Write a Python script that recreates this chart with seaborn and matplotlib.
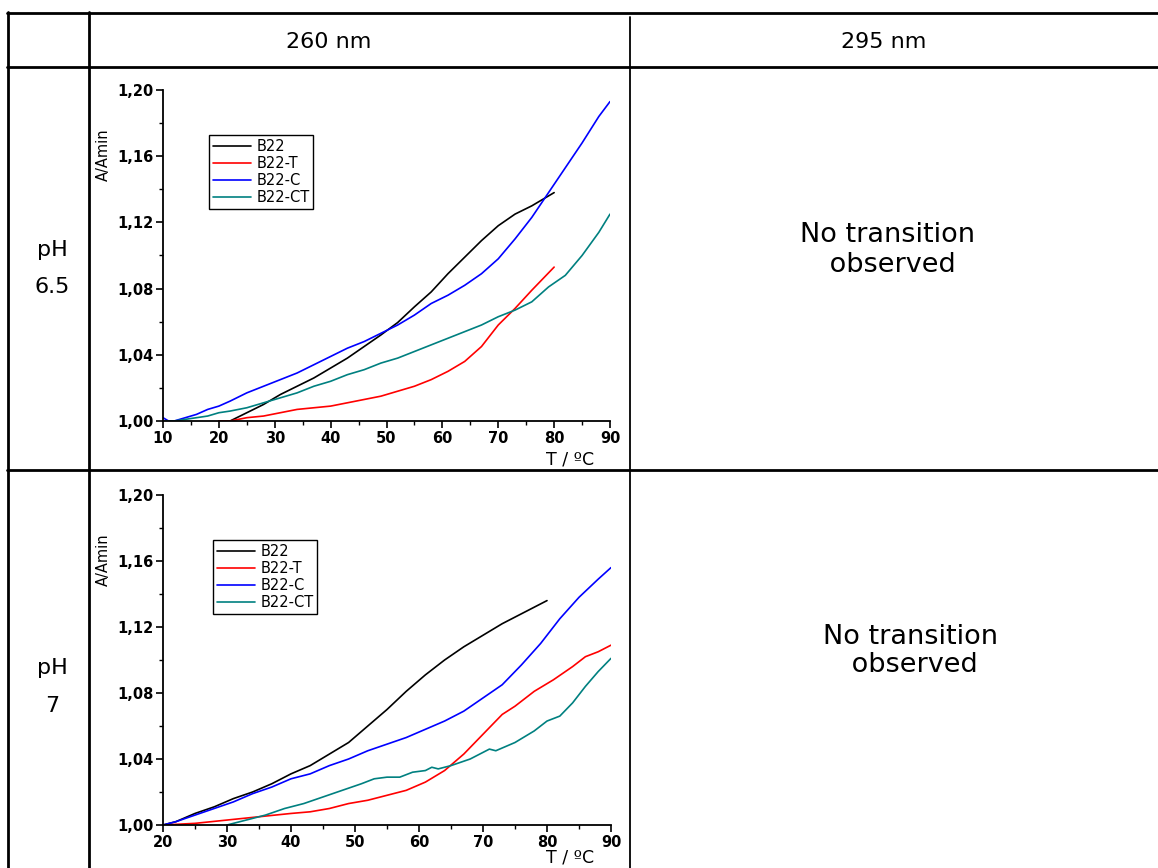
import numpy as np
import pandas as pd
import seaborn as sns
import matplotlib.pyplot as plt
from matplotlib.lines import Line2D
from matplotlib.ticker import MultipleLocator, FuncFormatter

series_names = ['B22', 'B22-T', 'B22-C', 'B22-CT']
series_colors = ['#000000', '#ff0000', '#0000ff', '#008080']
col_headers = ['260 nm', '295 nm']
row_headers = ['pH\n6.5', 'pH\n7']
no_transition = 'No transition\n observed'

# pH 6.5, 260 nm
t65_b22 = [20, 22, 25, 28, 31, 34, 37, 40, 43, 46, 49, 52, 55, 58, 61, 64, 67, 70, 73, 76, 78, 80]
a65_b22 = [1.000, 1.000, 1.005, 1.010, 1.016, 1.021, 1.026, 1.032, 1.038, 1.045, 1.052, 1.0595,
           1.069, 1.078, 1.089, 1.099, 1.109, 1.118, 1.125, 1.130, 1.134, 1.138]
t65_b22t = [20, 22, 25, 28, 31, 34, 37, 40, 43, 46, 49, 52, 55, 58, 61, 64, 67, 70, 73, 76, 78, 80]
a65_b22t = [1.000, 1.000, 1.002, 1.003, 1.005, 1.007, 1.008, 1.009, 1.011, 1.013, 1.015, 1.018,
            1.021, 1.025, 1.030, 1.036, 1.045, 1.058, 1.068, 1.079, 1.086, 1.093]
t65_b22c = [10, 11, 12, 14, 16, 18, 20, 22, 25, 28, 31, 34, 37, 40, 43, 46, 49, 52, 55, 58, 61,
            64, 67, 70, 73, 76, 79, 82, 85, 88, 90]
a65_b22c = [1.002, 1.000, 1.000, 1.002, 1.004, 1.007, 1.009, 1.012, 1.017, 1.021, 1.025, 1.029,
            1.034, 1.039, 1.044, 1.048, 1.053, 1.058, 1.064, 1.071, 1.076, 1.082, 1.089, 1.098,
            1.110, 1.123, 1.138, 1.153, 1.168, 1.184, 1.193]
t65_b22ct = [10, 12, 14, 16, 18, 20, 22, 25, 28, 31, 34, 37, 40, 43, 46, 49, 52, 55, 58, 61, 64,
             67, 70, 73, 76, 79, 82, 85, 88, 90]
a65_b22ct = [1.000, 1.000, 1.001, 1.002, 1.003, 1.005, 1.006, 1.008, 1.011, 1.014, 1.017, 1.021,
             1.024, 1.028, 1.031, 1.035, 1.038, 1.042, 1.046, 1.050, 1.054, 1.058, 1.063, 1.067,
             1.072, 1.081, 1.088, 1.100, 1.114, 1.125]

# pH 7, 260 nm
t7_b22 = [20, 22, 25, 28, 31, 34, 37, 40, 43, 46, 49, 52, 55, 58, 61, 64, 67, 70, 73, 76, 78, 80]
a7_b22 = [1.000, 1.002, 1.007, 1.011, 1.016, 1.020, 1.025, 1.031, 1.036, 1.043, 1.050, 1.060,
          1.070, 1.081, 1.091, 1.100, 1.108, 1.115, 1.122, 1.128, 1.132, 1.136]
t7_b22t = [20, 25, 30, 35, 40, 43, 46, 49, 52, 55, 58, 61, 64, 67, 70, 73, 75, 78, 81, 84, 86, 88, 90]
a7_b22t = [1.000, 1.001, 1.003, 1.005, 1.007, 1.008, 1.010, 1.013, 1.015, 1.018, 1.021, 1.026,
           1.033, 1.043, 1.055, 1.067, 1.072, 1.081, 1.088, 1.096, 1.102, 1.105, 1.109]
t7_b22c = [20, 22, 25, 28, 31, 34, 37, 40, 43, 46, 49, 52, 55, 58, 61, 64, 67, 70, 73, 76, 79,
           82, 85, 88, 90]
a7_b22c = [1.000, 1.002, 1.006, 1.010, 1.014, 1.019, 1.023, 1.028, 1.031, 1.036, 1.040, 1.045,
           1.049, 1.053, 1.058, 1.063, 1.069, 1.077, 1.085, 1.097, 1.110, 1.125, 1.138, 1.149, 1.156]
t7_b22ct = [30, 33, 36, 39, 41, 42, 45, 48, 51, 53, 55, 57, 59, 61, 62, 63, 65, 68, 71, 72, 75,
            78, 80, 82, 84, 86, 88, 90]
a7_b22ct = [1.000, 1.003, 1.006, 1.010, 1.012, 1.013, 1.017, 1.021, 1.025, 1.028, 1.029, 1.029,
            1.032, 1.033, 1.035, 1.034, 1.036, 1.040, 1.046, 1.045, 1.050, 1.057, 1.063, 1.066,
            1.074, 1.084, 1.093, 1.101]


def long_df(ts, vals):
    rows = []
    for name, t, v in zip(series_names, ts, vals):
        rows.append(pd.DataFrame({'T': t, 'A': v, 'sample': name}))
    return pd.concat(rows, ignore_index=True)


df65 = long_df([t65_b22, t65_b22t, t65_b22c, t65_b22ct], [a65_b22, a65_b22t, a65_b22c, a65_b22ct])
df7 = long_df([t7_b22, t7_b22t, t7_b22c, t7_b22ct], [a7_b22, a7_b22t, a7_b22c, a7_b22ct])

sns.set_style('ticks')
plt.rcParams['font.family'] = ['DejaVu Sans']
for k in ['text.color', 'axes.labelcolor', 'xtick.color', 'ytick.color', 'axes.edgecolor']:
    plt.rcParams[k] = 'black'

W, H = 1158, 868
fig = plt.figure(figsize=(W / 100, H / 100), dpi=100)


def fx(x):
    return x / W


def fy(y):
    return 1 - y / H


def hline(y, x0, x1, lw=2.0):
    fig.add_artist(Line2D([fx(x0), fx(x1)], [fy(y), fy(y)], color='black', lw=lw,
                          transform=fig.transFigure))


def vline(x, y0, y1, lw=2.0):
    fig.add_artist(Line2D([fx(x), fx(x)], [fy(y0), fy(y1)], color='black', lw=lw,
                          transform=fig.transFigure))


# table grid
hline(12.5, 7, 1158)
hline(67, 7, 1158)
hline(470, 7, 1158)
vline(8, 12, 868)
vline(89, 12, 868)
vline(630, 17, 868, lw=1.3)

fig.text(fx(329), fy(42), col_headers[0], ha='center', va='center', fontsize=16)
fig.text(fx(884), fy(42), col_headers[1], ha='center', va='center', fontsize=16)
fig.text(fx(52), fy(268.5), row_headers[0], ha='center', va='center', fontsize=16, linespacing=2.1)
fig.text(fx(52), fy(687), row_headers[1], ha='center', va='center', fontsize=16, linespacing=2.1)
fig.text(fx(888), fy(250), no_transition, ha='center', va='center', fontsize=19.5, linespacing=1.15)
fig.text(fx(910), fy(651), no_transition, ha='center', va='center', fontsize=19.5, linespacing=1.15)

palette = dict(zip(series_names, series_colors))
comma = FuncFormatter(lambda v, p: f'{v:.2f}'.replace('.', ','))

panels = [
    (df65, (10, 90), (163, 610, 90, 421), (209, 135), 38),
    (df7, (20, 90), (163, 611, 495, 825), (213, 540), 33),
]
for df, xlim, (l, r, t, b), (lx, ly), xoff in panels:
    ax = fig.add_axes([fx(l), fy(b), (r - l) / W, (b - t) / H])
    sns.lineplot(data=df, x='T', y='A', hue='sample', hue_order=series_names,
                 palette=palette, sort=False, estimator=None, lw=1.2, ax=ax)
    ax.set_xlim(*xlim)
    ax.set_ylim(1.0, 1.2)
    ax.xaxis.set_major_locator(MultipleLocator(10))
    ax.xaxis.set_minor_locator(MultipleLocator(5))
    ax.yaxis.set_major_locator(MultipleLocator(0.04))
    ax.yaxis.set_minor_locator(MultipleLocator(0.02))
    ax.yaxis.set_major_formatter(comma)
    ax.tick_params(which='major', length=5, width=1.2, direction='out',
                   labelsize=10.5, pad=2)
    ax.tick_params(which='minor', length=3, width=1.0, direction='out')
    for lab in ax.get_xticklabels() + ax.get_yticklabels():
        lab.set_fontweight('bold')
    for s in ['left', 'bottom']:
        ax.spines[s].set_linewidth(1.3)
    sns.despine(ax=ax)
    ax.set_xlabel('')
    ax.set_ylabel('')
    ax.text((570 - l) / (r - l), -xoff / (b - t), 'T / ºC', transform=ax.transAxes,
            ha='center', va='center', fontsize=12.5)
    ax.text((103 - l) / (r - l), 1 - 65 / (b - t), 'A/Amin', transform=ax.transAxes,
            rotation=90, ha='center', va='center', fontsize=10.5)
    old = ax.get_legend()
    handles = old.legend_handles
    labels = [tx.get_text() for tx in old.get_texts()]
    old.remove()
    leg = ax.legend(handles, labels, loc='upper left', bbox_to_anchor=(fx(lx), fy(ly)),
                    bbox_transform=fig.transFigure, fontsize=10.5, frameon=True,
                    fancybox=False, edgecolor='black', framealpha=1, handlelength=2.6,
                    handletextpad=0.4, borderpad=0.25, labelspacing=0.15, borderaxespad=0)
    leg.get_frame().set_linewidth(1.0)
    for h in leg.legend_handles:
        h.set_linewidth(1.2)

fig.savefig('out.png', dpi=100)
